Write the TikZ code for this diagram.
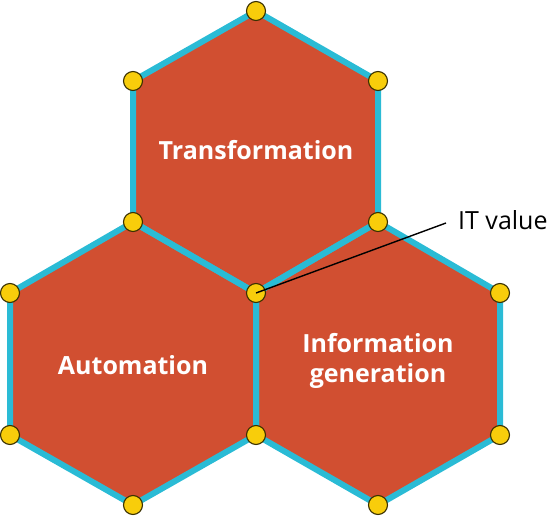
\documentclass[tikz,border=0pt]{standalone}
\usepackage{fontspec}
\setmainfont{Open Sans}
\definecolor{hexfill}{HTML}{D14F31}
\definecolor{hexedge}{HTML}{2ABBD5}
\definecolor{dotfill}{HTML}{F8CD0B}
\definecolor{dotedge}{HTML}{3A3000}
\tikzset{
  hexface/.style={fill=hexfill,draw=none},
  hexline/.style={draw=hexedge,line width=6pt,line join=miter},
  vdot/.style={circle,fill=dotfill,draw=dotedge,line width=1.1pt,minimum size=19pt,inner sep=0pt},
  hexlabel/.style={text=white,font=\fontsize{25}{30}\selectfont\bfseries,align=center},
  calllabel/.style={font=\fontsize{25}{28}\selectfont,anchor=west,inner sep=0pt},
  callline/.style={draw=black,line width=1.4pt}
}
\begin{document}
\begin{tikzpicture}[x=1pt,y=-1pt]
\useasboundingbox (0,0) rectangle (550,520);
% vertices
\coordinate (T0) at (256,11);
\coordinate (T1) at (133,81);
\coordinate (T2) at (378,81);
\coordinate (M1) at (133,222);
\coordinate (M2) at (378,222);
\coordinate (C) at (256,293);
\coordinate (L1) at (10,293);
\coordinate (R1) at (500,293);
\coordinate (L2) at (10,435);
\coordinate (B1) at (256,435);
\coordinate (R2) at (500,435);
\coordinate (LB) at (133,505);
\coordinate (RB) at (378,505);
% faces
\fill[hexface] (T0) -- (T2) -- (M2) -- (C) -- (M1) -- (T1) -- cycle;
\fill[hexface] (M1) -- (C) -- (B1) -- (LB) -- (L2) -- (L1) -- cycle;
\fill[hexface] (M2) -- (R1) -- (R2) -- (RB) -- (B1) -- (C) -- cycle;
% edges
\draw[hexline] (T0) -- (T2) -- (M2) -- (C) -- (M1) -- (T1) -- cycle;
\draw[hexline] (M1) -- (C) -- (B1) -- (LB) -- (L2) -- (L1) -- cycle;
\draw[hexline] (M2) -- (R1) -- (R2) -- (RB) -- (B1) -- (C) -- cycle;
% labels
\node[hexlabel] (tr) at (256,150) {Transformation};
\node[hexlabel] (au) at (133,365) {Automation};
\node[hexlabel] (ig) at (378,361) {Information\\generation};
% dots
\foreach \p in {T0,T1,T2,M1,M2,L1,R1,L2,B1,R2,LB,RB}
  \node[vdot] (d\p) at (\p) {};
\node[vdot] (dC) at (C) {};
% callout
\node[calllabel] (itv) at (458,220) {IT value};
\draw[callline] (itv.west) ++(-12,3) coordinate (ce) (ce) -- (dC.center);
\end{tikzpicture}
\end{document}
